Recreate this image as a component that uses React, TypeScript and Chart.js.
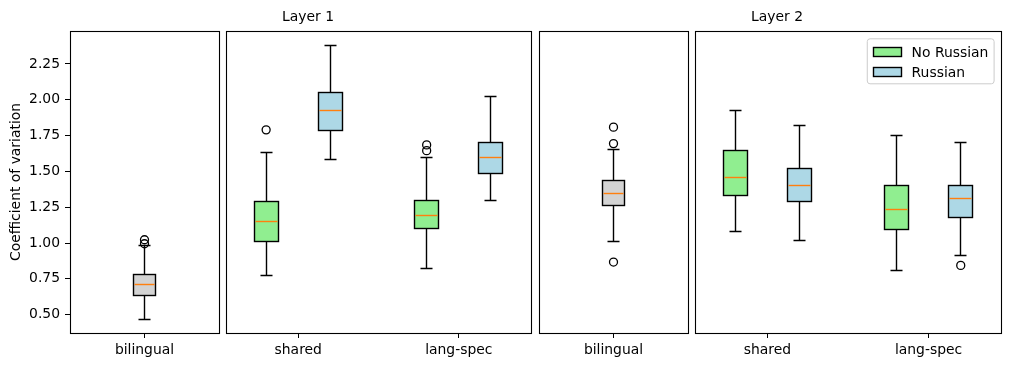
import React, { useEffect, useRef } from "react";
import { Chart, registerables } from "chart.js";
Chart.register(...registerables);

// ---------- data ----------
const yTicks = [0.5, 0.75, 1.0, 1.25, 1.5, 1.75, 2.0, 2.25];
const yMin = 0.372;
const yMax = 2.48;
const singleLabels = ["bilingual"];
const pairLabels = ["shared", "lang-spec"];
const layerTitles = ["Layer 1", "Layer 2"];
const seriesNames = ["No Russian", "Russian"];
const yAxisTitle = "Coefficient of variation";

// box stats: [lower whisker, Q1, median, Q3, upper whisker]
const l1Bilingual = [0.463, 0.637, 0.714, 0.777, 0.981];
const l1BilingualOut = [0.995, 1.023];
const l1SharedNoRu = [0.77, 1.014, 1.153, 1.293, 1.634];
const l1SharedNoRuOut = [1.79];
const l1SharedRu = [1.586, 1.788, 1.927, 2.048, 2.382];
const l1SharedRuOut: number[] = [];
const l1LangNoRu = [0.819, 1.104, 1.195, 1.3, 1.597];
const l1LangNoRuOut = [1.645, 1.685];
const l1LangRu = [1.3, 1.488, 1.595, 1.704, 2.025];
const l1LangRuOut: number[] = [];

const l2Bilingual = [1.014, 1.265, 1.348, 1.439, 1.655];
const l2BilingualOut = [0.867, 1.694, 1.809];
const l2SharedNoRu = [1.077, 1.335, 1.46, 1.648, 1.922];
const l2SharedNoRuOut: number[] = [];
const l2SharedRu = [1.021, 1.293, 1.404, 1.523, 1.823];
const l2SharedRuOut: number[] = [];
const l2LangNoRu = [0.805, 1.095, 1.237, 1.404, 1.753];
const l2LangNoRuOut: number[] = [];
const l2LangRu = [0.911, 1.178, 1.314, 1.404, 1.704];
const l2LangRuOut = [0.844];

// ---------- styles ----------
const FONT = "DejaVu Sans";
const FS = 13.9;
const GRAY = "#d3d3d3";
const GREEN = "#90ee90";
const BLUE = "#add8e6";
const MEDIAN = "#ff7f0e";
const BOX_W = 0.15;
const LW = 1.4;

type Box = { pos: number; stats: number[]; out: number[]; color: string };
type PanelCfg = {
  left: number;
  width: number;
  padL: number;
  showY: boolean;
  xMin: number;
  xMax: number;
  tickPos: number[];
  labels: string[];
  boxes: Box[];
  title?: { text: string; pageX: number };
  legend?: boolean;
};

const panels: PanelCfg[] = [
  {
    left: 0, width: 222, padL: 0, showY: true, xMin: 0.5, xMax: 1.5,
    tickPos: [1], labels: singleLabels,
    boxes: [{ pos: 1, stats: l1Bilingual, out: l1BilingualOut, color: GRAY }],
  },
  {
    left: 223, width: 311, padL: 3, showY: false, xMin: 0.55, xMax: 2.45,
    tickPos: [1, 2], labels: pairLabels,
    boxes: [
      { pos: 0.8, stats: l1SharedNoRu, out: l1SharedNoRuOut, color: GREEN },
      { pos: 1.2, stats: l1SharedRu, out: l1SharedRuOut, color: BLUE },
      { pos: 1.8, stats: l1LangNoRu, out: l1LangNoRuOut, color: GREEN },
      { pos: 2.2, stats: l1LangRu, out: l1LangRuOut, color: BLUE },
    ],
    title: { text: layerTitles[0], pageX: 308 },
  },
  {
    left: 536, width: 155, padL: 3, showY: false, xMin: 0.5, xMax: 1.5,
    tickPos: [1], labels: singleLabels,
    boxes: [{ pos: 1, stats: l2Bilingual, out: l2BilingualOut, color: GRAY }],
  },
  {
    left: 692, width: 312, padL: 3, showY: false, xMin: 0.55, xMax: 2.45,
    tickPos: [1, 2], labels: pairLabels,
    boxes: [
      { pos: 0.8, stats: l2SharedNoRu, out: l2SharedNoRuOut, color: GREEN },
      { pos: 1.2, stats: l2SharedRu, out: l2SharedRuOut, color: BLUE },
      { pos: 1.8, stats: l2LangNoRu, out: l2LangNoRuOut, color: GREEN },
      { pos: 2.2, stats: l2LangRu, out: l2LangRuOut, color: BLUE },
    ],
    title: { text: layerTitles[1], pageX: 777 },
    legend: true,
  },
];

const snap = (v: number) => Math.floor(v) + 0.5;

function makePlugin(cfg: PanelCfg) {
  return {
    id: "boxplots",
    beforeDatasetsDraw(chart: any) {
      const { ctx } = chart;
      const x = chart.scales.x;
      const y = chart.scales.y;
      ctx.save();
      ctx.lineWidth = LW;
      cfg.boxes.forEach((b) => {
        const [lo, q1, med, q3, hi] = b.stats;
        const xc = snap(x.getPixelForValue(b.pos));
        const xl = snap(x.getPixelForValue(b.pos - BOX_W / 2));
        const xr = snap(x.getPixelForValue(b.pos + BOX_W / 2));
        const cl = snap(x.getPixelForValue(b.pos - BOX_W / 4));
        const cr = snap(x.getPixelForValue(b.pos + BOX_W / 4));
        const yLo = snap(y.getPixelForValue(lo));
        const yQ1 = snap(y.getPixelForValue(q1));
        const yMed = snap(y.getPixelForValue(med));
        const yQ3 = snap(y.getPixelForValue(q3));
        const yHi = snap(y.getPixelForValue(hi));
        ctx.strokeStyle = "#000";
        ctx.beginPath();
        ctx.moveTo(xc, yQ1);
        ctx.lineTo(xc, yLo);
        ctx.moveTo(xc, yQ3);
        ctx.lineTo(xc, yHi);
        ctx.moveTo(cl, yLo);
        ctx.lineTo(cr, yLo);
        ctx.moveTo(cl, yHi);
        ctx.lineTo(cr, yHi);
        ctx.stroke();
        ctx.fillStyle = b.color;
        ctx.fillRect(xl, yQ3, xr - xl, yQ1 - yQ3);
        ctx.strokeStyle = "#000";
        ctx.strokeRect(xl, yQ3, xr - xl, yQ1 - yQ3);
        ctx.strokeStyle = MEDIAN;
        ctx.beginPath();
        ctx.moveTo(xl + 1, yMed);
        ctx.lineTo(xr - 1, yMed);
        ctx.stroke();
      });
      ctx.restore();
    },
    afterDraw(chart: any) {
      const { ctx, chartArea } = chart;
      ctx.save();
      ctx.strokeStyle = "#000";
      ctx.lineWidth = 1.1;
      const l = snap(chartArea.left), t = snap(chartArea.top);
      const r = snap(chartArea.right), bt = snap(chartArea.bottom);
      ctx.strokeRect(l, t, r - l, bt - t);
      ctx.lineWidth = 1;
      ctx.font = `${FS}px "${FONT}"`;
      ctx.fillStyle = "#000";
      if (cfg.title) {
        ctx.textAlign = "center";
        ctx.textBaseline = "alphabetic";
        ctx.fillText(cfg.title.text, cfg.title.pageX - cfg.left, 20.5);
      }
      if (cfg.legend) {
        const pad = 0.4 * FS;
        const handle = 2 * FS;
        const gap = 0.8 * FS;
        const tw = Math.max(...seriesNames.map((s) => ctx.measureText(s).width));
        const w = pad + handle + gap + tw + pad;
        const h = 45;
        const lx = chartArea.right - 7.4 - w;
        const ly = chartArea.top + 7.3;
        ctx.beginPath();
        (ctx as any).roundRect(lx + 0.5, ly + 0.5, w, h, 2.8);
        ctx.fillStyle = "rgba(255,255,255,0.8)";
        ctx.fill();
        ctx.strokeStyle = "#cccccc";
        ctx.stroke();
        const colors = [GREEN, BLUE];
        seriesNames.forEach((name, i) => {
          const cy = ly + 13.2 + i * 20.5;
          const px = Math.round(lx + 6.3) + 0.5;
          const py = Math.round(cy - 4.8) + 0.5;
          ctx.fillStyle = colors[i];
          ctx.fillRect(px, py, 28, 9);
          ctx.strokeStyle = "#000";
          ctx.lineWidth = LW;
          ctx.strokeRect(px, py, 28, 9);
          ctx.fillStyle = "#000";
          ctx.textAlign = "left";
          ctx.textBaseline = "alphabetic";
          ctx.fillText(name, lx + 6.3 + 28 + 10.5, cy + 5.1);
        });
      }
      ctx.restore();
    },
  };
}

function Panel({ cfg }: { cfg: PanelCfg }) {
  const ref = useRef<HTMLCanvasElement>(null);
  useEffect(() => {
    const points: { x: number; y: number }[] = [];
    cfg.boxes.forEach((b) => b.out.forEach((v) => points.push({ x: b.pos, y: v })));
    const font = { family: FONT, size: FS };
    const chart = new Chart(ref.current as HTMLCanvasElement, {
      type: "scatter",
      data: {
        datasets: [
          {
            data: points,
            pointRadius: 4,
            pointHoverRadius: 4,
            pointBackgroundColor: "rgba(0,0,0,0)",
            pointBorderColor: "#000",
            pointBorderWidth: 1.3,
            showLine: false,
          },
        ],
      },
      options: {
        animation: false,
        responsive: false,
        devicePixelRatio: 1,
        events: [],
        layout: { autoPadding: false, padding: { top: 31, left: cfg.padL, right: 3, bottom: 0 } },
        plugins: {
          legend: { display: false },
          tooltip: { enabled: false },
          title: { display: false },
        },
        scales: {
          x: {
            type: "linear",
            min: cfg.xMin,
            max: cfg.xMax,
            afterBuildTicks: (s: any) => {
              s.ticks = cfg.tickPos.map((v) => ({ value: v }));
            },
            afterFit: (s: any) => {
              s.height = 34;
              s.paddingLeft = 0;
              s.paddingRight = 0;
            },
            ticks: {
              callback: (v: any) => cfg.labels[cfg.tickPos.indexOf(Number(v))] ?? "",
              color: "#000",
              font,
              padding: 4,
              maxRotation: 0,
              autoSkip: false,
            },
            grid: {
              drawOnChartArea: false,
              drawTicks: true,
              tickLength: 5,
              color: "#000",
              lineWidth: 1,
            },
            border: { display: false },
          },
          y: {
            type: "linear",
            min: yMin,
            max: yMax,
            display: cfg.showY,
            afterBuildTicks: (s: any) => {
              s.ticks = yTicks.map((v) => ({ value: v }));
            },
            afterFit: (s: any) => {
              s.width = cfg.showY ? 70 : 0;
              s.paddingTop = 0;
              s.paddingBottom = 0;
            },
            title: {
              display: true,
              text: yAxisTitle,
              color: "#000",
              font,
              padding: { top: 8, bottom: 0 },
            },
            ticks: {
              callback: (v: any) => Number(v).toFixed(2),
              color: "#000",
              font,
              padding: 5,
            },
            grid: {
              drawOnChartArea: false,
              drawTicks: true,
              tickLength: 5,
              color: "#000",
              lineWidth: 1,
            },
            border: { display: false },
          },
        },
      } as any,
      plugins: [makePlugin(cfg)],
    });
    return () => chart.destroy();
  }, []);
  return (
    <canvas
      ref={ref}
      width={cfg.width}
      height={367}
      style={{ position: "absolute", left: cfg.left, top: 0, width: cfg.width, height: 367 }}
    />
  );
}

export default function App() {
  return (
    <div style={{ position: "absolute", left: 0, top: 0, width: 1010, height: 367, background: "#fff" }}>
      {panels.map((p, i) => (
        <Panel key={i} cfg={p} />
      ))}
    </div>
  );
}
